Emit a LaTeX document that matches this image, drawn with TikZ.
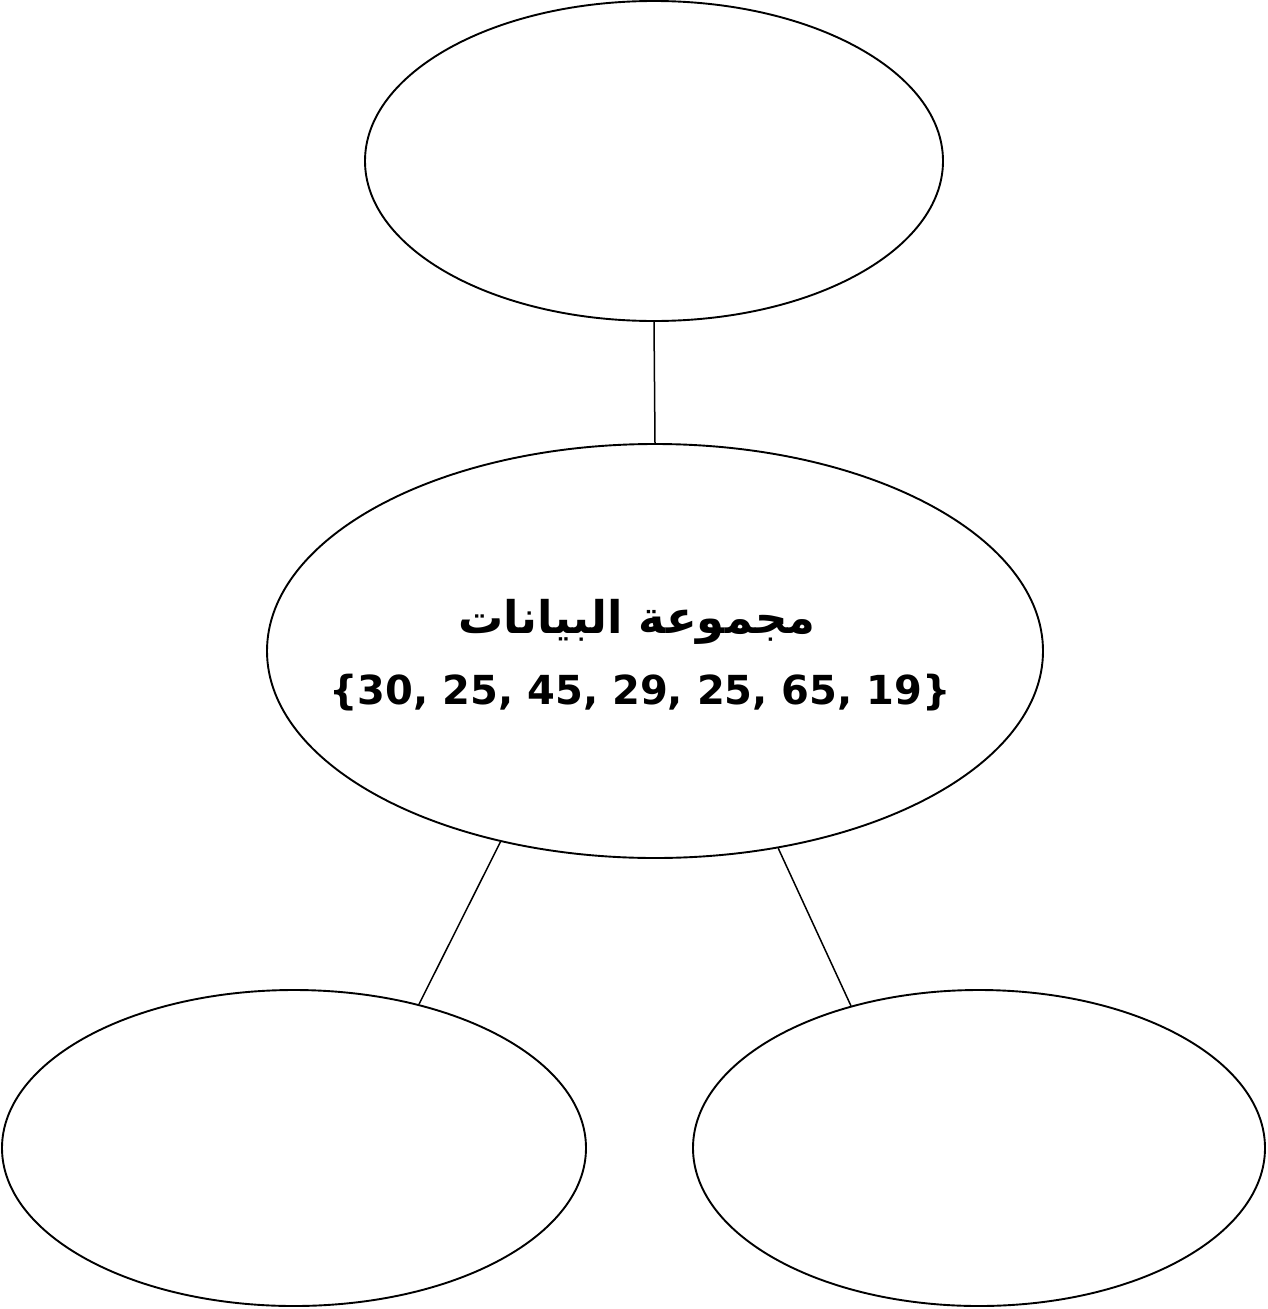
\documentclass[tikz,border=0pt]{standalone}
\usepackage{fontspec}
\setmainfont{DejaVu Sans}
\newfontfamily\arabicfont[Script=Arabic]{DejaVu Sans}
\TeXXeTstate=1
\usetikzlibrary{shapes.geometric}
\tikzset{
  bubble/.style={draw, ellipse, line width=1.9pt, inner sep=0pt},
  link/.style={line width=1.5pt},
}
\begin{document}
\begin{tikzpicture}[x=1pt,y=-1pt]
\useasboundingbox (0,0) rectangle (1267,1309);
\node[bubble, minimum width=578pt, minimum height=320pt] (top) at (654,161) {};
\node[bubble, minimum width=776pt, minimum height=414pt] (mid) at (655,651) {};
\node[bubble, minimum width=584pt, minimum height=316pt] (bl) at (294,1148) {};
\node[bubble, minimum width=572pt, minimum height=316pt] (br) at (979,1148) {};
\node[font=\bfseries\fontsize{45}{50}\selectfont] (title) at (637,622) {\arabicfont\beginR مجموعة البيانات\endR};
\node[font=\bfseries\fontsize{40}{46}\selectfont] (data) at (640,693) {\{30, 25, 45, 29, 25, 65, 19\}};
\draw[link] (top.south) -- (mid.north);
\draw[link] (mid.231) -- (bl.49);
\draw[link] (mid.302) -- (br.132);
\end{tikzpicture}
\end{document}
